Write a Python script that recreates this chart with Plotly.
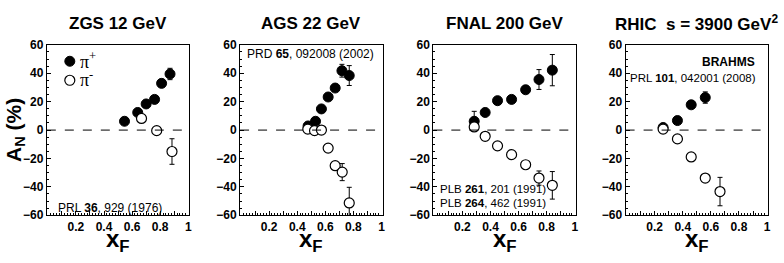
import plotly.graph_objects as go

W, H = 784, 263

# ---------------- data ----------------
titles = ["ZGS 12 GeV", "AGS 22 GeV", "FNAL 200 GeV", "RHIC  s = 3900 GeV<sup>2</sup>"]
series_names = ["\u03c0<sup>+</sup>", "\u03c0<sup>-</sup>"]

zgs_pip_x = [0.546, 0.64, 0.70, 0.76, 0.81, 0.87]
zgs_pip_y = [6.2, 12.4, 18.4, 21.6, 32.9, 39.5]
zgs_pip_e = [1.5, 1.5, 1.5, 1.5, 2.0, 4.0]
zgs_pim_x = [0.667, 0.775, 0.884]
zgs_pim_y = [8.2, -0.4, -15.1]
zgs_pim_e = [1.5, 1.5, 9.0]

ags_pip_x = [0.477, 0.53, 0.572, 0.62, 0.67, 0.718, 0.77]
ags_pip_y = [2.9, 6.2, 14.9, 23.3, 29.6, 41.8, 38.4]
ags_pip_e = [1.5, 1.5, 1.5, 1.5, 2.0, 4.5, 7.0]
ags_pim_x = [0.475, 0.523, 0.572, 0.62, 0.67, 0.72, 0.77]
ags_pim_y = [0.7, -0.4, 0.0, -12.7, -25.1, -29.6, -51.3]
ags_pim_e = [1.5, 1.5, 1.5, 1.5, 2.0, 6.0, 11.0]

fnal_pip_x = [0.284, 0.362, 0.45, 0.55, 0.65, 0.745, 0.84]
fnal_pip_y = [6.2, 12.4, 20.7, 21.6, 28.4, 35.6, 42.2]
fnal_pip_e = [7.0, 1.5, 1.5, 1.5, 2.5, 7.0, 11.0]
fnal_pim_x = [0.284, 0.362, 0.45, 0.55, 0.65, 0.745, 0.84]
fnal_pim_y = [2.2, -4.4, -11.1, -17.3, -24.4, -33.8, -38.9]
fnal_pim_e = [3.0, 1.5, 1.5, 1.5, 1.5, 5.0, 9.7]

rhic_pip_x = [0.26, 0.362, 0.46, 0.56]
rhic_pip_y = [1.8, 6.7, 17.8, 22.9]
rhic_pip_e = [1.5, 1.5, 1.5, 4.0]
rhic_pim_x = [0.26, 0.362, 0.46, 0.56, 0.665]
rhic_pim_y = [0.7, -6.2, -18.9, -33.8, -43.3]
rhic_pim_e = [1.0, 1.0, 1.0, 1.0, 10.0]

panels = [
    (zgs_pip_x, zgs_pip_y, zgs_pip_e, zgs_pim_x, zgs_pim_y, zgs_pim_e),
    (ags_pip_x, ags_pip_y, ags_pip_e, ags_pim_x, ags_pim_y, ags_pim_e),
    (fnal_pip_x, fnal_pip_y, fnal_pip_e, fnal_pim_x, fnal_pim_y, fnal_pim_e),
    (rhic_pip_x, rhic_pip_y, rhic_pip_e, rhic_pim_x, rhic_pim_y, rhic_pim_e),
]

x_tickvals = [0.1, 0.2, 0.3, 0.4, 0.5, 0.6, 0.7, 0.8, 0.9, 1.0]
x_ticktext = ["", "0.2", "", "0.4", "", "0.6", "", "0.8", "", "1"]
y_tickvals = [-60, -40, -20, 0, 20, 40, 60]

# ---------------- layout helpers ----------------
box_left = [47, 241, 435, 628]
box_w = 143
box_top, box_bot = 40, 220

def px(p):
    return p / W

def py(p):
    return 1 - p / H

FONT = "Liberation Sans, Arial, sans-serif"

fig = go.Figure()

for i, (ax, ay, ae, bx, by, be) in enumerate(panels):
    xa = "x" if i == 0 else f"x{i+1}"
    ya = "y" if i == 0 else f"y{i+1}"
    fig.add_trace(go.Scatter(
        x=ax, y=ay, mode="markers", xaxis=xa, yaxis=ya,
        name=" ", showlegend=(i == 0),
        marker=dict(symbol="circle", size=10, color="black",
                    line=dict(color="black", width=1)),
        error_y=dict(type="data", array=ae, color="black", thickness=1, width=2.5),
    ))
    fig.add_trace(go.Scatter(
        x=bx, y=by, mode="markers", xaxis=xa, yaxis=ya,
        name=" ", showlegend=(i == 0),
        marker=dict(symbol="circle", size=10, color="white",
                    line=dict(color="black", width=1.2)),
        error_y=dict(type="data", array=be, color="black", thickness=1, width=2.5),
    ))

layout = dict(
    width=W, height=H,
    margin=dict(l=0, r=0, t=0, b=0),
    paper_bgcolor="white", plot_bgcolor="white",
    font=dict(family=FONT, color="black"),
    showlegend=True,
    legend=dict(x=px(50), y=py(42), xanchor="left", yanchor="top",
                bgcolor="rgba(0,0,0,0)", tracegroupgap=0,
                font=dict(family=FONT, size=10, color="black"),
                itemwidth=30),
)

shapes = []
annotations = []
for i in range(4):
    L = box_left[i]
    suffix = "" if i == 0 else str(i + 1)
    layout["xaxis" + suffix] = dict(
        domain=[px(L), px(L + box_w)], range=[-0.007, 1.007],
        anchor="y" + suffix,
        showline=True, linecolor="black", linewidth=1, mirror=True,
        showgrid=False, zeroline=False,
        tickmode="array", tickvals=x_tickvals, ticktext=x_ticktext,
        ticks="inside", ticklen=4, tickcolor="black",
        minor=dict(dtick=0.02, ticks="inside", ticklen=2, tickcolor="black", showgrid=False),
        tickfont=dict(family=FONT, size=12, weight="bold", color="black"),
    )
    layout["yaxis" + suffix] = dict(
        domain=[py(box_bot), py(box_top)], range=[-60, 60],
        anchor="x" + suffix,
        showline=True, linecolor="black", linewidth=1, mirror=True,
        showgrid=False, zeroline=False,
        tickmode="array", tickvals=y_tickvals,
        ticks="inside", ticklen=4, tickcolor="black",
        minor=dict(dtick=5, ticks="inside", ticklen=2, tickcolor="black", showgrid=False),
        tickfont=dict(family=FONT, size=12, weight="bold", color="black"),
    )
    xref = "x" if i == 0 else f"x{i+1}"
    yref = "y" if i == 0 else f"y{i+1}"
    shapes.append(dict(type="line", xref=xref + " domain", yref=yref,
                       x0=0, x1=1, y0=0, y1=0,
                       line=dict(color="black", width=1, dash="dash")))
    cx = L + box_w / 2
    annotations.append(dict(text=titles[i], x=px(cx), y=py(17), xref="paper", yref="paper",
                            showarrow=False, xanchor="center", yanchor="middle",
                            font=dict(family=FONT, size=17, weight="bold")))
    annotations.append(dict(text="x<sub>F</sub>", x=px(cx), y=py(247), xref="paper", yref="paper",
                            showarrow=False, xanchor="center", yanchor="middle",
                            font=dict(family=FONT, size=24, weight="bold")))

# legend labels (symbols come from the plotly legend)
for name, yy in zip(series_names, [57, 76]):
    annotations.append(dict(text=name, x=px(78), y=py(yy), xref="paper", yref="paper",
                            showarrow=False, xanchor="left", yanchor="middle",
                            font=dict(family="Liberation Serif, Times New Roman, serif", size=18)))

# y-axis title
annotations.append(dict(text="A<sub>N</sub> (%)", x=px(15), y=py(130), xref="paper", yref="paper",
                        showarrow=False, textangle=-90, xanchor="center", yanchor="middle",
                        font=dict(family=FONT, size=21, weight="bold")))

# references
refs = [
    ("PRL <b>36</b>, 929 (1976)", 110, 212, "center", 12),
    ("PRD <b>65</b>, 092008 (2002)", 246, 50, "left", 12),
    ("PLB <b>261</b>, 201 (1991)", 440, 192, "left", 11.5),
    ("PLB <b>264</b>, 462 (1991)", 440, 207, "left", 11.5),
    ("<b>BRAHMS</b>", 760, 58, "right", 12),
    ("PRL <b>101</b>, 042001 (2008)", 761, 75, "right", 11.5),
]
for t, xx, yy, anc, fs in refs:
    annotations.append(dict(text=t, x=px(xx), y=py(yy), xref="paper", yref="paper",
                            showarrow=False, xanchor=anc, yanchor="middle",
                            font=dict(family=FONT, size=fs)))

layout["shapes"] = shapes
layout["annotations"] = annotations
fig.update_layout(**layout)

fig.write_html("out.html", config={"displayModeBar": False},
               post_script="document.body.style.margin='0';document.body.style.overflow='hidden';")
